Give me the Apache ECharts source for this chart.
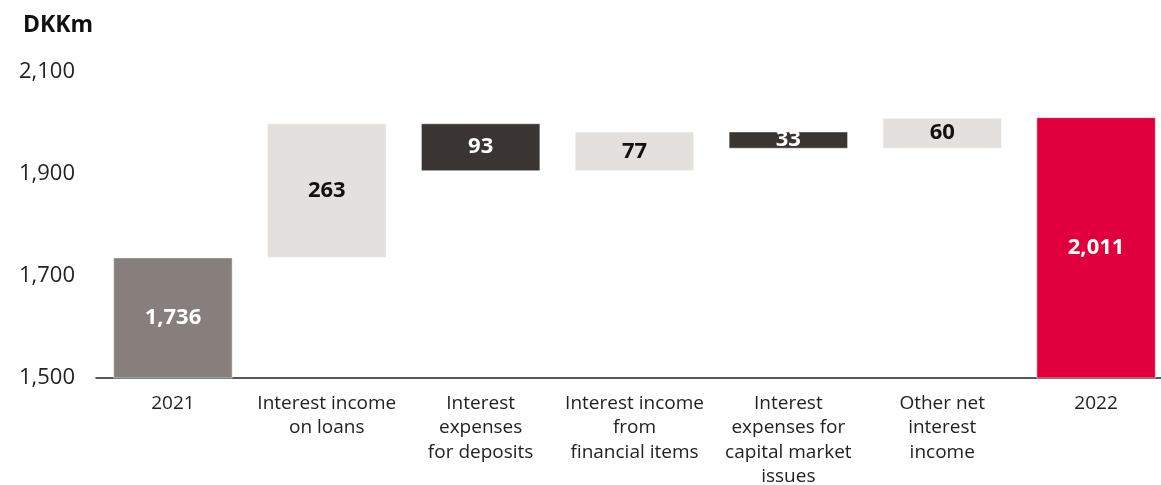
<!DOCTYPE html>
<html>
<head>
<meta charset="utf-8">
<script src="https://cdn.jsdelivr.net/npm/echarts@6/dist/echarts.min.js"></script>
<style>
  html, body { margin: 0; padding: 0; background: #ffffff; }
  #chart { width: 1161px; height: 485px; }
</style>
</head>
<body>
<div id="chart"></div>
<script>
// Net interest income bridge, DKKm
const categories = [
  '2021',
  'Interest income\non loans',
  'Interest\nexpenses\nfor deposits',
  'Interest income\nfrom\nfinancial items',
  'Interest\nexpenses for\ncapital market\nissues',
  'Other net\ninterest\nincome',
  '2022'
];
// 'total' bars start at zero; 'delta' bars float from the running total
const kinds = ['total', 'delta', 'delta', 'delta', 'delta', 'delta', 'total'];
const values = [1736, 263, -93, 77, -33, 60, 2011];
const yTicks = [1500, 1700, 1900, 2100];

const COLORS = {
  start: '#877f7c',
  up: '#e3e0dd',
  down: '#3a3532',
  end: '#e2003c'
};

// Build invisible base + visible bar segments from the running total
const baseData = [];
const barData = [];
let running = 0;
values.forEach((v, i) => {
  if (kinds[i] === 'total') {
    running = v;
    baseData.push(0);
    const color = i === 0 ? COLORS.start : COLORS.end;
    barData.push({
      value: v,
      itemStyle: { color: color },
      label: { color: '#ffffff' }
    });
  } else {
    const from = running;
    const to = running + v;
    running = to;
    baseData.push(Math.min(from, to));
    const up = v >= 0;
    barData.push({
      value: Math.abs(v),
      itemStyle: { color: up ? COLORS.up : COLORS.down },
      label: { color: up ? '#111111' : '#ffffff' }
    });
  }
});

const FONT = '"Open Sans", "DejaVu Sans", sans-serif';

const chart = echarts.init(document.getElementById('chart'));
chart.setOption({
  animation: false,
  backgroundColor: '#ffffff',
  title: {
    text: 'DKKm',
    left: 18,
    top: 9,
    textStyle: { fontFamily: FONT, fontSize: 23, fontWeight: 'bold', color: '#111111' }
  },
  grid: { left: 96, right: -12, top: 72, bottom: 107, containLabel: false, outerBoundsMode: 'none' },
  xAxis: {
    type: 'category',
    data: categories,
    axisLine: { show: true, lineStyle: { color: '#222222', width: 1.5 } },
    axisTick: { show: false },
    axisLabel: {
      interval: 0,
      margin: 13,
      fontFamily: FONT,
      fontSize: 19,
      lineHeight: 24.5,
      color: '#222222',
      verticalAlign: 'top'
    }
  },
  yAxis: {
    type: 'value',
    min: yTicks[0],
    max: yTicks[yTicks.length - 1],
    interval: yTicks[1] - yTicks[0],
    axisLine: { show: false },
    axisTick: { show: false },
    splitLine: { show: false },
    axisLabel: {
      margin: 21,
      fontFamily: FONT,
      fontSize: 22,
      color: '#222222',
      formatter: v => v.toLocaleString('en-US')
    }
  },
  series: [
    {
      type: 'bar',
      stack: 'bridge',
      data: baseData,
      itemStyle: { color: 'transparent' },
      barWidth: 119,
      silent: true
    },
    {
      type: 'bar',
      stack: 'bridge',
      data: barData,
      barWidth: 119,
      itemStyle: { borderColor: '#ffffff', borderWidth: 0.5 },
      label: {
        show: true,
        position: 'inside',
        fontFamily: FONT,
        fontSize: 22,
        fontWeight: 'bold',
        formatter: p => p.value.toLocaleString('en-US')
      }
    }
  ]
});
</script>
</body>
</html>
